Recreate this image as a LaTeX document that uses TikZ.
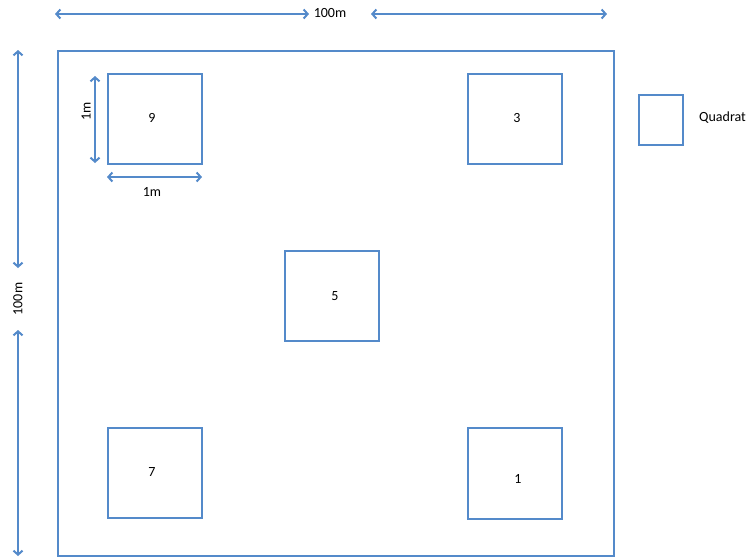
\documentclass[tikz,border=0pt]{standalone}
\usepackage{fontspec}
\setmainfont{Carlito}
\usetikzlibrary{arrows.meta}
\definecolor{qblue}{RGB}{84,138,202}
\tikzset{
  quad/.style={draw=qblue, line width=2pt, minimum width=94pt, minimum height=90pt, inner sep=0pt, anchor=north west},
  dim/.style={draw=qblue, line width=2pt, {Straight Barb[length=4pt,width=9pt]}-{Straight Barb[length=4pt,width=9pt]}},
  lbl/.style={font=\fontsize{14}{16}\selectfont, inner sep=1pt}
}
\begin{document}
\begin{tikzpicture}[x=1pt,y=-1pt]
\useasboundingbox (0,0) rectangle (756,558);
% field
\node[draw=qblue, line width=2pt, minimum width=556pt, minimum height=505pt, inner sep=0pt, anchor=north west] (field) at (57,50) {};
% quadrats
\node[quad] (q9) at (107,73) {};
\node[quad] (q3) at (467,73) {};
\node[quad] (q5) at (284,250) {};
\node[quad] (q7) at (107,427) {};
\node[quad, minimum height=91pt] (q1) at (467,427) {};
\node[lbl] (t9) at (152,118) {9};
\node[lbl] (t3) at (517,118) {3};
\node[lbl] (t5) at (335,296) {5};
\node[lbl] (t7) at (152,472) {7};
\node[lbl] (t1) at (518,479) {1};
% top dimension
\coordinate (tl) at (55,14);
\coordinate (tlr) at (309,14);
\coordinate (trl) at (371,14);
\coordinate (tr) at (607,14);
\node[lbl] (w100) at (330,13) {100m};
\draw[dim] (tl) -- (tlr);
\draw[dim] (trl) -- (tr);
% left dimension
\coordinate (lt) at (18,50);
\coordinate (ltb) at (18,268);
\coordinate (lbt) at (18,330);
\coordinate (lb) at (18,556);
\node[lbl, rotate=90] (h100) at (18,299) {100m};
\draw[dim] (lt) -- (ltb);
\draw[dim] (lbt) -- (lb);
% 1m dimensions on quadrat 9
\coordinate (vt) at (95,76);
\coordinate (vb) at (95,163);
\draw[dim] (vt) -- (vb);
\node[lbl, rotate=90] (v1m) at (86,111) {1m};
\coordinate (hl) at (107,177);
\coordinate (hr) at (202,177);
\draw[dim] (hl) -- (hr);
\node[lbl] (h1m) at (152,192) {1m};
% legend
\node[draw=qblue, line width=2pt, minimum width=44pt, minimum height=50pt, inner sep=0pt, anchor=north west] (leg) at (638,94) {};
\node[lbl, anchor=west] (legt) at (698,118) {Quadrat};
\end{tikzpicture}
\end{document}
